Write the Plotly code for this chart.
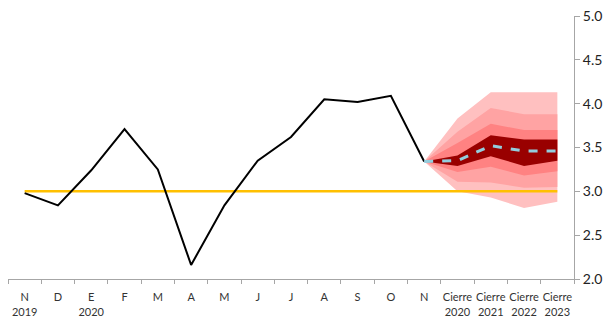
import plotly.graph_objects as go

# Categories / tick labels
tick_labels = ["N<br>2019", "D", "E<br>2020", "F", "M", "A", "M", "J", "J", "A", "S", "O", "N",
               "Cierre<br>2020", "Cierre<br>2021", "Cierre<br>2022", "Cierre<br>2023"]

# Observed series (Nov 2019 - Nov 2020)
observed = [2.98, 2.84, 3.24, 3.71, 3.25, 2.16, 2.84, 3.35, 3.62, 4.05, 4.02, 4.09, 3.34]

# Forecast (starting at Nov 2020, then Cierre 2020..2023)
central = [3.34, 3.35, 3.52, 3.46, 3.46]
outer_hi = [3.34, 3.83, 4.13, 4.13, 4.13]
outer_lo = [3.34, 3.00, 2.93, 2.81, 2.88]
b3_hi = [3.34, 3.68, 3.95, 3.88, 3.88]
b3_lo = [3.34, 3.11, 3.10, 3.04, 3.05]
b2_hi = [3.34, 3.55, 3.77, 3.70, 3.70]
b2_lo = [3.34, 3.22, 3.28, 3.18, 3.23]
b1_hi = [3.34, 3.41, 3.64, 3.59, 3.59]
b1_lo = [3.34, 3.29, 3.40, 3.29, 3.35]

target = 3.0

n = len(tick_labels)
x_all = list(range(n))
x_obs = list(range(len(observed)))
x_fc = list(range(len(observed) - 1, n))

fig = go.Figure()

bands = [
    (outer_hi, outer_lo, "rgb(255,192,192)"),
    (b3_hi, b3_lo, "rgb(255,163,163)"),
    (b2_hi, b2_lo, "rgb(255,130,130)"),
    (b1_hi, b1_lo, "rgb(153,0,0)"),
]
for hi, lo, col in bands:
    fig.add_trace(go.Scatter(
        x=x_fc + x_fc[::-1], y=hi + lo[::-1], fill="toself", fillcolor=col,
        mode="lines", line=dict(width=0, color=col), hoverinfo="skip", showlegend=False))

fig.add_trace(go.Scatter(x=x_all, y=[target] * n, mode="lines",
                         line=dict(color="#FFC000", width=2.5), showlegend=False))
fig.add_trace(go.Scatter(x=x_obs, y=observed, mode="lines",
                         line=dict(color="black", width=2), showlegend=False))
fig.add_trace(go.Scatter(x=x_fc, y=central, mode="lines",
                         line=dict(color="#93CDDD", width=3, dash="dash"), showlegend=False))

fig.update_layout(
    width=611, height=318,
    margin=dict(l=0, r=45, t=8, b=47, autoexpand=False),
    plot_bgcolor="white", paper_bgcolor="white",
    font=dict(family="Lato, Open Sans, sans-serif", color="#333333"),
    showlegend=False,
)
fig.update_xaxes(
    range=[-0.5, n - 0.5], automargin=False,
    tickmode="array", tickvals=x_all, ticktext=tick_labels,
    ticks="", showgrid=False, zeroline=False,
    showline=True, linecolor="#A6A6A6", linewidth=1,
    tickfont=dict(size=11, color="#333333"),
    ticklabelstandoff=8, ticklabeloverflow="allow",
    minor=dict(tickmode="linear", tick0=-0.5, dtick=1, ticks="outside",
               ticklen=4, tickcolor="#A6A6A6", showgrid=False),
)
fig.update_yaxes(
    range=[2, 5], side="right", automargin=False,
    tickmode="array", tickvals=[2.0, 2.5, 3.0, 3.5, 4.0, 4.5, 5.0], tickformat=".1f",
    ticks="outside", ticklen=5, tickcolor="#A6A6A6",
    showgrid=False, zeroline=False,
    showline=True, linecolor="#A6A6A6", linewidth=1,
    tickfont=dict(size=14, color="#222222"),
    ticklabeloverflow="allow",
)

fig.write_html("out.html")
